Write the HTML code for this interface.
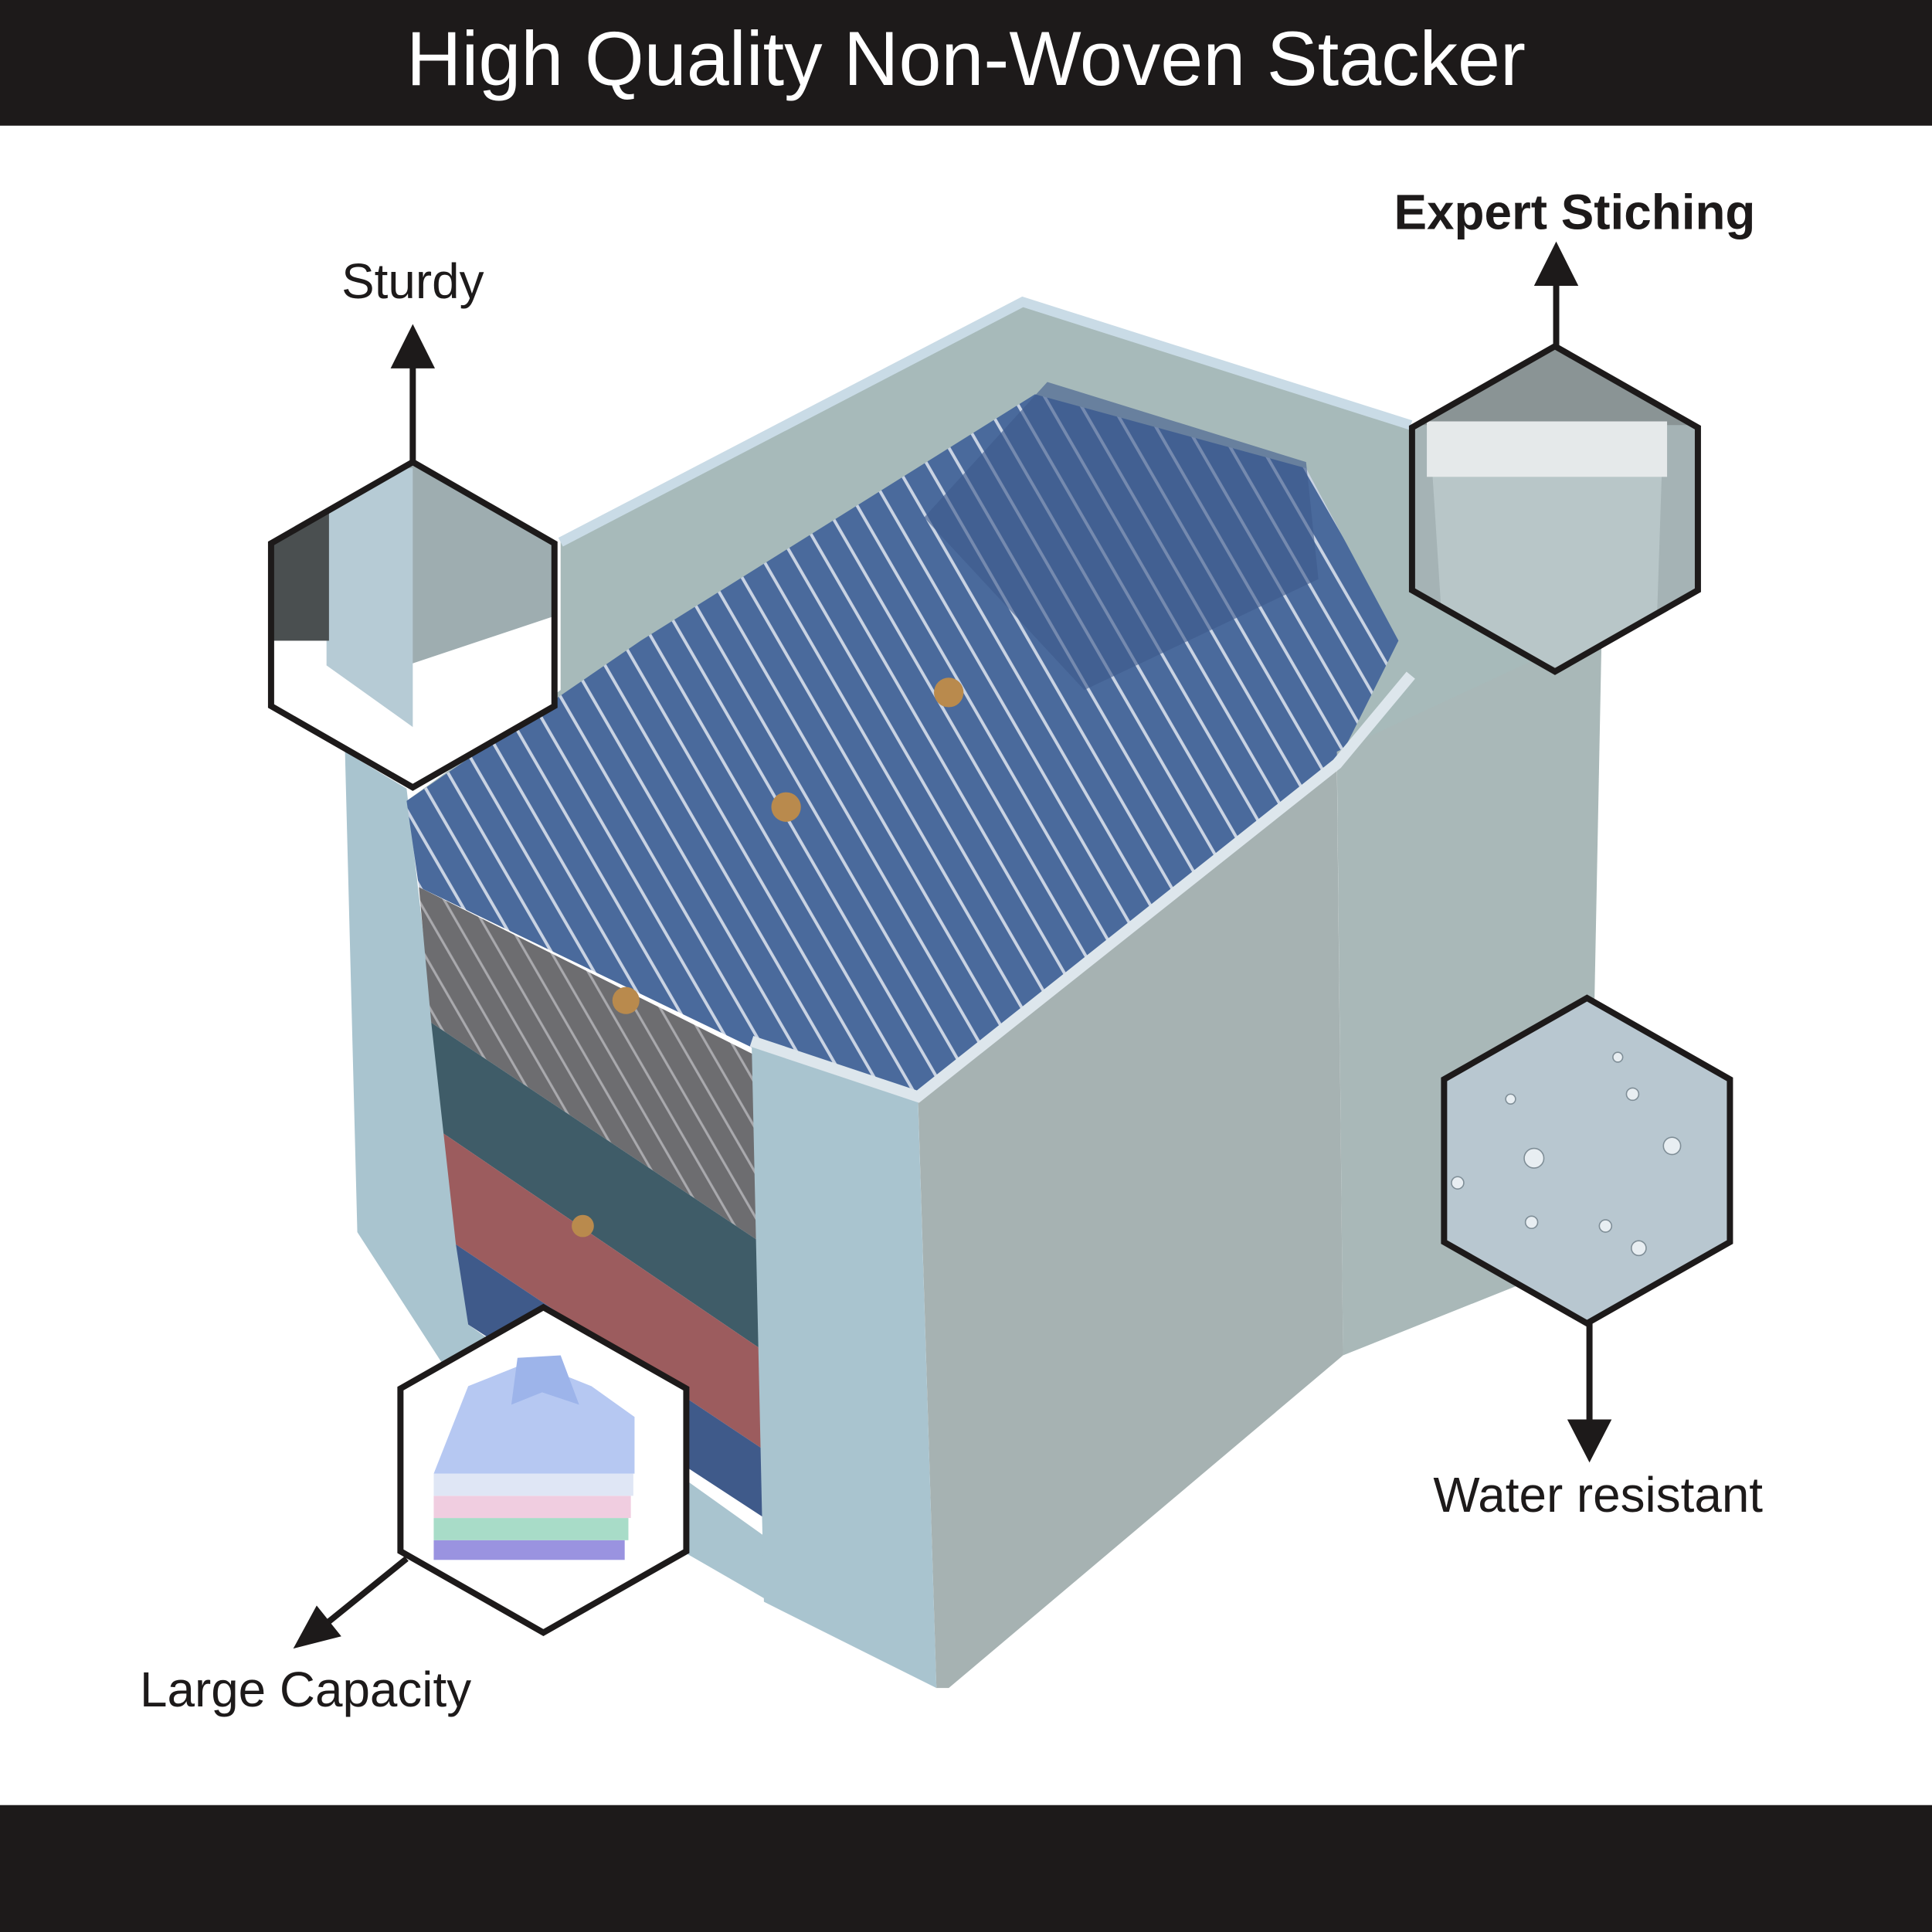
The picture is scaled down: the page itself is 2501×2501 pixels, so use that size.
<!DOCTYPE html>
<html><head><meta charset="utf-8"><style>
html,body{margin:0;padding:0;background:#fff}
svg{display:block}
text{font-family:"Liberation Sans",sans-serif}
</style></head><body>
<svg width="2501" height="2501" viewBox="0 0 1568 1568" xmlns="http://www.w3.org/2000/svg">
<defs>
<pattern id="stripe" width="22" height="22" patternUnits="userSpaceOnUse" patternTransform="rotate(-30)">
<rect width="22" height="22" fill="#4a6a9c"/><rect x="0" width="2.5" height="22" fill="#c9d3e3"/></pattern>
<pattern id="gstripe" width="18" height="18" patternUnits="userSpaceOnUse" patternTransform="rotate(-30)">
<rect width="18" height="18" fill="#6d6d70"/><rect width="2" height="18" fill="#a9a9ad"/></pattern>
<clipPath id="h1"><polygon points="335,375 450,441 450,573 335,639 220,573 220,441"/></clipPath>
<clipPath id="h2"><polygon points="1262,281 1378,347 1378,479 1262,545 1146,479 1146,347"/></clipPath>
<clipPath id="h3"><polygon points="1288,810 1404,876 1404,1008 1288,1074 1172,1008 1172,876"/></clipPath>
<clipPath id="h4"><polygon points="441,1061 557,1127 557,1259 441,1325 325,1259 325,1127"/></clipPath>
</defs>
<rect width="1568" height="1568" fill="#fff"/>
<rect x="0" y="0" width="1568" height="102" fill="#1d1a1a"/>
<rect x="0" y="1465" width="1568" height="103" fill="#1d1a1a"/>
<text x="784" y="69" font-size="62" fill="#fff" text-anchor="middle">High Quality Non-Woven Stacker</text>

<polygon points="455,440 830,245 1145,345 1300,500 1300,520 1085,610 600,840 330,650 455,560" fill="#a7baba"/>
<polyline points="455,440 830,245 1145,345" fill="none" stroke="#c9dbe6" stroke-width="8"/>
<polygon points="280,610 330,640 380,1075 625,1250 625,1300 400,1170 290,1000" fill="#a9c4cf"/>
<polygon points="340,720 620,860 620,1010 350,830" fill="url(#gstripe)"/>
<polygon points="350,830 620,1010 625,1100 360,920" fill="#3f5c68"/>
<polygon points="360,920 625,1100 625,1180 370,1010" fill="#9c5c5e"/>
<polygon points="370,1010 625,1180 625,1235 380,1075" fill="#3f5a8a"/>
<polygon points="330,650 520,520 840,320 1060,380 1135,520 1085,620 745,890 610,850 340,720" fill="url(#stripe)"/>
<polygon points="750,420 850,310 1060,375 1070,470 880,560" fill="#3d5a8c" opacity="0.6"/>
<circle cx="770" cy="562" r="12" fill="#b98a4d"/><circle cx="638" cy="655" r="12" fill="#b98a4d"/>
<circle cx="508" cy="812" r="11" fill="#b98a4d"/><circle cx="473" cy="995" r="9" fill="#b98a4d"/>
<polygon points="1085,610 1300,510 1290,1020 1090,1100" fill="#a9b8b8"/>
<polygon points="745,890 1085,620 1090,1100 770,1370 760,1370" fill="#a6b2b2"/>
<polygon points="610,845 745,892 760,1370 620,1300" fill="#a9c4cf"/>
<polyline points="610,845 745,890 1085,620 1145,548" fill="none" stroke="#dde6ec" stroke-width="9"/>

<g clip-path="url(#h1)"><rect x="215" y="370" width="240" height="275" fill="#9eadb0"/>
<polygon points="220,500 330,540 450,500 450,650 220,650" fill="#fff"/>
<polygon points="265,380 335,380 335,590 265,540" fill="#b6cbd5"/><rect x="215" y="370" width="52" height="150" fill="#4a4f50"/></g>
<polygon points="335,375 450,441 450,573 335,639 220,573 220,441" fill="none" stroke="#1d1a1a" stroke-width="5"/>
<g clip-path="url(#h2)"><rect x="1140" y="275" width="245" height="275" fill="#a5b3b5"/>
<rect x="1140" y="275" width="245" height="70" fill="#8a9495"/>
<polygon points="1160,345 1350,345 1345,495 1270,545 1170,500" fill="#b8c6c8"/>
<rect x="1158" y="342" width="195" height="45" fill="#e5e9ea"/></g>
<polygon points="1262,281 1378,347 1378,479 1262,545 1146,479 1146,347" fill="none" stroke="#1d1a1a" stroke-width="5"/>
<g clip-path="url(#h3)"><rect x="1165" y="805" width="245" height="275" fill="#b8c7d0"/>
<g fill="#e8eef2" stroke="#7f8e97" stroke-width="1"><circle cx="1245" cy="940" r="8"/><circle cx="1357" cy="930" r="7"/><circle cx="1325" cy="888" r="5"/><circle cx="1226" cy="892" r="4"/><circle cx="1303" cy="995" r="5"/><circle cx="1330" cy="1013" r="6"/><circle cx="1243" cy="992" r="5"/><circle cx="1313" cy="858" r="4"/><circle cx="1183" cy="960" r="5"/></g></g>
<polygon points="1288,810 1404,876 1404,1008 1288,1074 1172,1008 1172,876" fill="none" stroke="#1d1a1a" stroke-width="5"/>
<g clip-path="url(#h4)"><rect x="320" y="1055" width="245" height="275" fill="#fff"/>
<rect x="352" y="1250" width="155" height="16" fill="#9a93e0"/>
<rect x="352" y="1232" width="158" height="18" fill="#a8dcc8"/>
<rect x="352" y="1214" width="160" height="18" fill="#f0cde0"/>
<rect x="352" y="1196" width="162" height="18" fill="#dfe6f5"/>
<polygon points="352,1196 380,1125 430,1105 480,1125 515,1150 515,1196" fill="#b6c8f2"/>
<polygon points="420,1102 455,1100 470,1140 440,1130 415,1140" fill="#9db4ea"/></g>
<polygon points="441,1061 557,1127 557,1259 441,1325 325,1259 325,1127" fill="none" stroke="#1d1a1a" stroke-width="5"/>

<g stroke="#1d1a1a" stroke-width="5" fill="#1d1a1a">
<line x1="335" y1="375" x2="335" y2="295"/><polygon points="317,299 353,299 335,263" stroke="none"/>
<line x1="1263" y1="281" x2="1263" y2="228"/><polygon points="1245,232 1281,232 1263,196" stroke="none"/>
<line x1="1290" y1="1074" x2="1290" y2="1155"/><polygon points="1272,1152 1308,1152 1290,1187" stroke="none"/>
<line x1="330" y1="1265" x2="262" y2="1320"/><polygon points="238,1338 277,1328 257,1303" stroke="none"/>
</g>
<text x="335" y="242" font-size="40" fill="#1d1a1a" text-anchor="middle">Sturdy</text>
<text x="1278" y="186" font-size="40" font-weight="bold" fill="#1d1a1a" text-anchor="middle">Expert Stiching</text>
<text x="1297" y="1227" font-size="40" fill="#1d1a1a" text-anchor="middle">Water resistant</text>
<text x="248" y="1385" font-size="40" fill="#1d1a1a" text-anchor="middle">Large Capacity</text>
</svg>
</body></html>
